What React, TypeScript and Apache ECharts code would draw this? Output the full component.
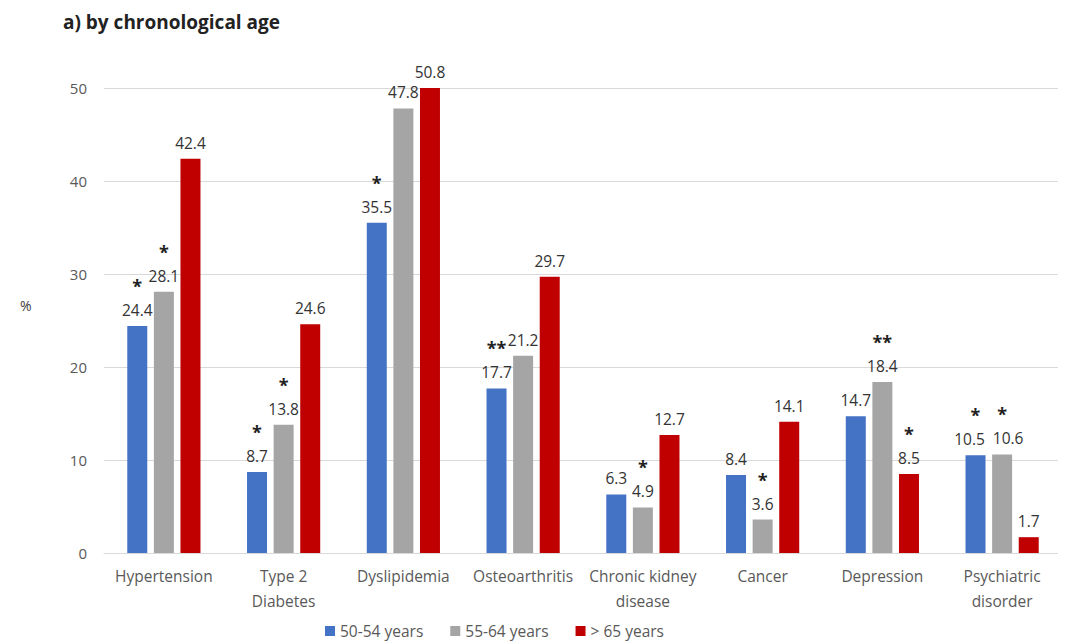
import React, { useEffect, useRef } from "react";
import * as echarts from "echarts";

const categories = [
  "Hypertension",
  "Type 2\nDiabetes",
  "Dyslipidemia",
  "Osteoarthritis",
  "Chronic kidney\ndisease",
  "Cancer",
  "Depression",
  "Psychiatric\ndisorder",
];
const seriesNames = ["50-54 years", "55-64 years", "> 65 years"];
const age50to54 = [24.4, 8.7, 35.5, 17.7, 6.3, 8.4, 14.7, 10.5];
const age55to64 = [28.1, 13.8, 47.8, 21.2, 4.9, 3.6, 18.4, 10.6];
const ageOver65 = [42.4, 24.6, 50.8, 29.7, 12.7, 14.1, 8.5, 1.7];
const stars50to54 = ["*", "*", "*", "**", "", "", "", "*"];
const stars55to64 = ["*", "*", "", "", "*", "*", "**", "*"];
const starsOver65 = ["", "", "", "", "", "", "*", ""];
const colors = ["#4472C4", "#A5A5A5", "#C00000"];

export default function App() {
  const ref = useRef<HTMLDivElement>(null);
  useEffect(() => {
    if (!ref.current) return;
    const chart = echarts.init(ref.current, undefined, { renderer: "svg" });
    const values = [age50to54, age55to64, ageOver65];
    const stars = [stars50to54, stars55to64, starsOver65];
    const font = "Open Sans";
    // spread crowded neighbouring labels (blue & gray both wide) apart a little
    const crowded = (i: number) =>
      values[0][i] > 0 && Math.abs(values[0][i] - values[1][i]) < 1;
    chart.setOption({
      animation: false,
      textStyle: { fontFamily: font },
      title: {
        text: "a) by chronological age",
        left: 50,
        top: -1,
        textStyle: { fontSize: 19, fontWeight: "bold", color: "#222", fontFamily: font },
      },
      graphic: [
        {
          type: "text",
          left: 12,
          top: 290,
          style: { text: "%", fontSize: 14, fill: "#404040", fontFamily: font },
        },
      ],
      legend: {
        bottom: 0,
        left: 312,
        itemWidth: 10,
        itemHeight: 10,
        itemGap: 27,
        icon: "rect",
        textStyle: { fontSize: 15.5, color: "#595959", fontFamily: font },
        data: seriesNames,
      },
      grid: { left: 96, right: 4, top: 80, bottom: 91 },
      xAxis: {
        type: "category",
        data: categories,
        axisLine: { lineStyle: { color: "#D9D9D9" } },
        axisTick: { show: false },
        axisLabel: { fontSize: 15.5, color: "#595959", lineHeight: 25, margin: 10, interval: 0 },
      },
      yAxis: {
        type: "value",
        min: 0,
        max: 50,
        interval: 10,
        axisLine: { show: false },
        axisTick: { show: false },
        splitLine: { lineStyle: { color: "#D9D9D9" } },
        axisLabel: { fontSize: 15, color: "#595959", margin: 17 },
      },
      series: seriesNames.map((name, si) => ({
        name,
        type: "bar",
        barWidth: 20,
        barGap: "33%",
        itemStyle: { color: colors[si] },
        data: values[si].map((v, i) => {
          const shift = crowded(i) ? (si === 0 ? -6 : si === 1 ? 6 : 0) : 0;
          const hasStar = !!stars[si][i];
          return {
            value: v,
            label: {
              show: true,
              position: "top",
              distance: 5,
              offset: [shift, 0],
              formatter: hasStar
                ? "{s|" + stars[si][i] + "}\n{v|" + v.toFixed(1) + "}"
                : "{v|" + v.toFixed(1) + "}",
              rich: {
                s: {
                  fontSize: 18,
                  fontWeight: "bold",
                  color: "#222",
                  lineHeight: 26,
                  align: "center",
                  padding: shift < 0 ? [0, 0, 0, 2 * -shift] : shift > 0 ? [0, 2 * shift, 0, 0] : 0,
                },
                v: { fontSize: 15.5, color: "#333", lineHeight: 22, align: "center" },
              },
            },
          };
        }),
      })),
    });
    return () => chart.dispose();
  }, []);
  return <div ref={ref} style={{ width: 1058, height: 636 }} />;
}
